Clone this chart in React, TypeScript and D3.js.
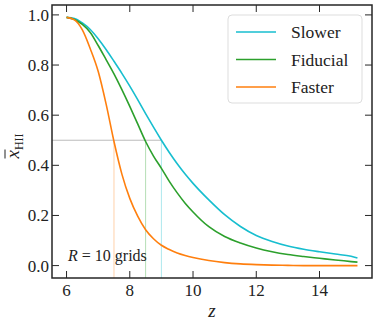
import React, { useEffect, useRef } from "react";
import * as d3 from "d3";

// redshift grid
const zValues = [6.0, 6.25, 6.5, 6.75, 7.0, 7.25, 7.5, 7.75, 8.0, 8.25, 8.5, 8.75, 9.0, 9.25, 9.5, 9.75, 10.0, 10.5, 11.0, 11.5, 12.0, 12.5, 13.0, 13.5, 14.0, 14.5, 15.0, 15.2];

const slower = [0.99, 0.986, 0.968, 0.942, 0.905, 0.862, 0.815, 0.767, 0.716, 0.662, 0.606, 0.552, 0.5, 0.451, 0.406, 0.365, 0.328, 0.262, 0.203, 0.156, 0.12, 0.096, 0.078, 0.065, 0.055, 0.046, 0.037, 0.03];
const fiducial = [0.99, 0.982, 0.962, 0.93, 0.878, 0.822, 0.765, 0.702, 0.635, 0.565, 0.495, 0.437, 0.388, 0.336, 0.29, 0.249, 0.214, 0.155, 0.116, 0.09, 0.07, 0.055, 0.044, 0.036, 0.029, 0.022, 0.016, 0.014];
const faster = [0.99, 0.98, 0.94, 0.865, 0.775, 0.645, 0.495, 0.365, 0.268, 0.197, 0.143, 0.107, 0.081, 0.064, 0.05, 0.04, 0.032, 0.02, 0.012, 0.007, 0.004, 0.002, 0.001, 0, 0, 0, 0, 0];

const seriesNames = ["Slower", "Fiducial", "Faster"];
const seriesColors = ["#17becf", "#2ca02c", "#ff7f0e"];
// redshift where each model reaches x = 0.5
const halfZ = [9.0, 8.5, 7.5];

const xTicks = [6, 8, 10, 12, 14];
const yTicks = [0.0, 0.2, 0.4, 0.6, 0.8, 1.0];

function Chart() {
    const ref = useRef<SVGSVGElement | null>(null);

    useEffect(() => {
        const svg = d3.select(ref.current);
        svg.selectAll("*").remove();

        const margin = { left: 52, right: 6, top: 5, bottom: 47 };
        const W = 378, H = 325;
        const x0 = margin.left, x1 = W - margin.right;
        const y0 = margin.top, y1 = H - margin.bottom;

        const x = d3.scaleLinear().domain([5.54, 15.66]).range([x0, x1]);
        const y = d3.scaleLinear().domain([-0.0495, 1.0395]).range([y1, y0]);

        const font = "Liberation Serif, Times New Roman, serif";
        const axisColor = "#262626";

        // reference lines at x = 0.5
        svg.append("line")
            .attr("x1", x0).attr("x2", x(halfZ[0]))
            .attr("y1", y(0.5)).attr("y2", y(0.5))
            .attr("stroke", "#bbbbbb").attr("stroke-width", 1);

        halfZ.forEach((zh, i) => {
            svg.append("line")
                .attr("x1", x(zh)).attr("x2", x(zh))
                .attr("y1", y(0.5)).attr("y2", y1)
                .attr("stroke", seriesColors[i])
                .attr("stroke-opacity", 0.35)
                .attr("stroke-width", 1);
        });

        // curves
        const all = [slower, fiducial, faster];
        const line = d3.line<number>()
            .x((d, i) => x(zValues[i]))
            .y(d => y(d))
            .curve(d3.curveMonotoneX);

        all.forEach((vals, i) => {
            svg.append("path")
                .datum(vals)
                .attr("d", line)
                .attr("fill", "none")
                .attr("stroke", seriesColors[i])
                .attr("stroke-width", 1.6);
        });

        // frame
        svg.append("rect")
            .attr("x", x0).attr("y", y0)
            .attr("width", x1 - x0).attr("height", y1 - y0)
            .attr("fill", "none")
            .attr("stroke", axisColor)
            .attr("stroke-width", 1.5);

        // ticks, inward on all four sides
        const tl = 7;
        xTicks.forEach(t => {
            const px = x(t);
            svg.append("line").attr("x1", px).attr("x2", px).attr("y1", y1).attr("y2", y1 - tl)
                .attr("stroke", axisColor).attr("stroke-width", 1);
            svg.append("line").attr("x1", px).attr("x2", px).attr("y1", y0).attr("y2", y0 + tl)
                .attr("stroke", axisColor).attr("stroke-width", 1);
            svg.append("text")
                .attr("x", px).attr("y", y1 + 18)
                .attr("text-anchor", "middle")
                .attr("font-family", font).attr("font-size", 17)
                .attr("fill", "#222")
                .text(d3.format("d")(t));
        });

        yTicks.forEach(t => {
            const py = y(t);
            svg.append("line").attr("x1", x0).attr("x2", x0 + tl).attr("y1", py).attr("y2", py)
                .attr("stroke", axisColor).attr("stroke-width", 1);
            svg.append("line").attr("x1", x1).attr("x2", x1 - tl).attr("y1", py).attr("y2", py)
                .attr("stroke", axisColor).attr("stroke-width", 1);
            svg.append("text")
                .attr("x", x0 - 3).attr("y", py)
                .attr("dy", "0.35em")
                .attr("text-anchor", "end")
                .attr("font-family", font).attr("font-size", 17)
                .attr("fill", "#222")
                .text(d3.format(".1f")(t));
        });

        // x label
        svg.append("text")
            .attr("x", (x0 + x1) / 2).attr("y", 317)
            .attr("text-anchor", "middle")
            .attr("font-family", font).attr("font-size", 19)
            .attr("font-style", "italic")
            .attr("fill", "#222")
            .text("z");

        // y label: x-bar with HII subscript
        const yl = svg.append("g").attr("transform", "translate(19," + ((y0 + y1) / 2) + ") rotate(-90)");
        const yt = yl.append("text")
            .attr("x", -17).attr("y", 0)
            .attr("font-family", font)
            .attr("fill", "#222");
        yt.append("tspan").attr("font-style", "italic").attr("font-size", 19).text("x");
        yt.append("tspan").attr("dy", 4).attr("font-size", 12).text("HII");
        yl.append("line")
            .attr("x1", -17).attr("x2", -8)
            .attr("y1", -14).attr("y2", -14)
            .attr("stroke", "#222").attr("stroke-width", 1);

        // annotation
        const ann = svg.append("text")
            .attr("x", 68).attr("y", 261)
            .attr("font-family", font).attr("font-size", 16)
            .attr("fill", "#222");
        ann.append("tspan").attr("font-style", "italic").text("R");
        ann.append("tspan").text(" = 10 grids");

        // legend
        const lg = svg.append("g");
        lg.append("rect")
            .attr("x", 228).attr("y", 15)
            .attr("width", 134).attr("height", 88)
            .attr("rx", 4)
            .attr("fill", "white").attr("fill-opacity", 0.85)
            .attr("stroke", "#dddddd").attr("stroke-width", 1);

        seriesNames.forEach((name, i) => {
            const ly = 32 + i * 27.5;
            lg.append("line")
                .attr("x1", 236).attr("x2", 276)
                .attr("y1", ly).attr("y2", ly)
                .attr("stroke", seriesColors[i]).attr("stroke-width", 1.6);
            lg.append("text")
                .attr("x", 291).attr("y", ly + 6)
                .attr("font-family", font).attr("font-size", 17.5)
                .attr("fill", "#222")
                .text(name);
        });
    }, []);

    return (
        <svg ref={ref} width={378} height={325}
            style={{ position: "absolute", left: 0, top: 0, background: "white" }} />
    );
}

export default function App() {
    return <Chart />;
}
